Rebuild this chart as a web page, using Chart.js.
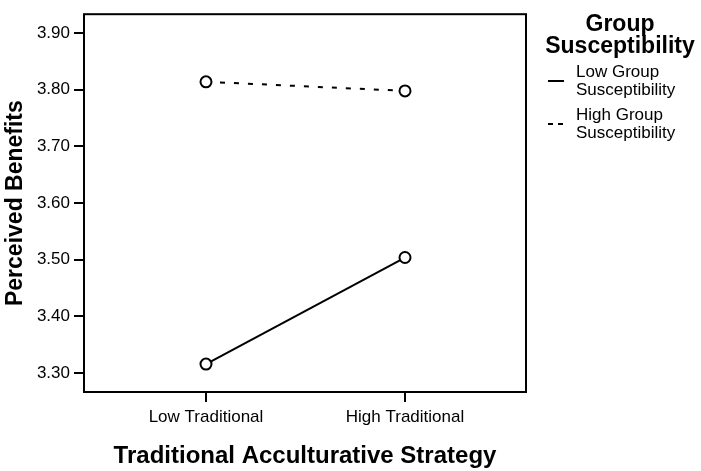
<!DOCTYPE html>
<html>
<head>
<meta charset="utf-8">
<script src="https://cdn.jsdelivr.net/npm/chart.js@4.4.1/dist/chart.umd.min.js"></script>
<style>
  body { margin: 0; background: #fff; }
  #wrap { position: relative; width: 701px; height: 471px; }
  #legend {
    position: absolute; left: 540px; top: 12px; width: 160px;
    font-family: "Liberation Sans", Arial, sans-serif; color: #000;
  }
  #legend .title { font-weight: bold; font-size: 23px; line-height: 22px; text-align: center; }
  #legend .item { display: flex; align-items: center; margin-top: 7px; }
  #legend .item svg { margin-left: 8px; margin-right: 12px; }
  #legend .item span { font-size: 17px; line-height: 18px; }
</style>
</head>
<body>
<div id="wrap">
  <canvas id="myChart" width="701" height="471"></canvas>
  <div id="legend">
    <div class="title">Group<br>Susceptibility</div>
    <div class="item">
      <svg width="16" height="4"><line x1="0" y1="2" x2="16" y2="2" stroke="#000" stroke-width="2"/></svg>
      <span>Low Group<br>Susceptibility</span>
    </div>
    <div class="item">
      <svg width="16" height="4"><line x1="0" y1="2" x2="16" y2="2" stroke="#000" stroke-width="2" stroke-dasharray="5 5"/></svg>
      <span>High Group<br>Susceptibility</span>
    </div>
  </div>
</div>
<script>
// dati
var categories = ["Low Traditional", "High Traditional"];
var lowGroup = [3.316, 3.504];
var highGroup = [3.814, 3.798];
var yTicks = [3.3, 3.4, 3.5, 3.6, 3.7, 3.8, 3.9];

var font = "'Liberation Sans', Arial, sans-serif";

function toPoints(values) {
  return values.map(function (v, i) {
    return { x: i, y: v };
  });
}

// cornice nera attorno all'area del grafico
var boxPlugin = {
  id: "box",
  afterDraw: function (chart) {
    var a = chart.chartArea;
    var ctx = chart.ctx;
    ctx.save();
    ctx.strokeStyle = "#000";
    ctx.lineWidth = 2;
    ctx.strokeRect(a.left, a.top, a.right - a.left, a.bottom - a.top);
    ctx.restore();
  },
};

new Chart("myChart", {
  type: "line",
  data: {
    datasets: [
      {
        label: "Low Group Susceptibility",
        data: toPoints(lowGroup),
        borderColor: "#000",
        borderWidth: 2,
        pointRadius: 5.5,
        pointBorderWidth: 2,
        pointBackgroundColor: "#fff",
        pointBorderColor: "#000",
      },
      {
        label: "High Group Susceptibility",
        data: toPoints(highGroup),
        borderColor: "#000",
        borderWidth: 2,
        borderDash: [5, 9],
        pointRadius: 5.5,
        pointBorderWidth: 2,
        pointBackgroundColor: "#fff",
        pointBorderColor: "#000",
      },
    ],
  },
  options: {
    responsive: false,
    animation: false,
    devicePixelRatio: 1,
    layout: { padding: { top: 6, right: 175, left: 0, bottom: 0 } },
    plugins: {
      legend: { display: false },
      tooltip: { enabled: false },
    },
    scales: {
      x: {
        type: "linear",
        min: -0.613,
        max: 1.608,
        afterBuildTicks: function (scale) {
          scale.ticks = categories.map(function (c, i) {
            return { value: i };
          });
        },
        afterFit: function (scale) {
          scale.height = 79;
        },
        grid: { drawOnChartArea: false, tickLength: 10, lineWidth: 2, color: "#000" },
        border: { display: false },
        ticks: {
          color: "#000",
          padding: 5,
          font: { family: font, size: 17 },
          maxRotation: 0,
          callback: function (v) {
            return categories[v];
          },
        },
        title: {
          display: true,
          text: "Traditional Acculturative Strategy",
          color: "#000",
          font: { family: font, size: 24, weight: "bold" },
          padding: { top: 5, bottom: 0 },
        },
      },
      y: {
        min: 3.2667,
        max: 3.9333,
        afterBuildTicks: function (scale) {
          scale.ticks = yTicks.map(function (v) {
            return { value: v };
          });
        },
        afterFit: function (scale) {
          scale.width = 84;
        },
        grid: { drawOnChartArea: false, tickLength: 10, lineWidth: 2, color: "#000" },
        border: { display: false },
        ticks: {
          color: "#000",
          padding: 4,
          font: { family: font, size: 17 },
          callback: function (v) {
            return v.toFixed(2);
          },
        },
        title: {
          display: true,
          text: "Perceived Benefits",
          color: "#000",
          font: { family: font, size: 23, weight: "bold" },
          padding: { top: 2, bottom: 0 },
        },
      },
    },
  },
  plugins: [boxPlugin],
});
</script>
</body>
</html>
